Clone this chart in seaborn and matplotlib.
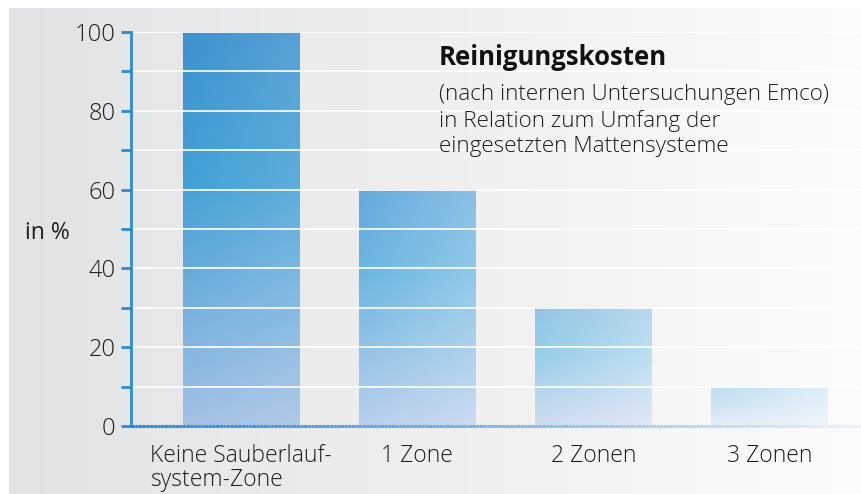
import numpy as np
import pandas as pd
import matplotlib
matplotlib.use('Agg')
import matplotlib.pyplot as plt
import seaborn as sns
from matplotlib.collections import LineCollection
from matplotlib.colors import LinearSegmentedColormap, to_rgb
from matplotlib.ticker import MultipleLocator

# --- data ---
categories = ['Keine Sauberlauf-\nsystem-Zone', '1 Zone', '2 Zonen', '3 Zonen']
values = [100, 60, 30, 10]
yticks = [0, 20, 40, 60, 80, 100]
title = 'Reinigungskosten'
subtitle = '(nach internen Untersuchungen Emco)\nin Relation zum Umfang der\neingesetzten Mattensysteme'

df = pd.DataFrame({'zone': categories, 'kosten': values})

# --- style ---
sns.set_theme(style='white')
plt.rcParams['font.family'] = ['Open Sans', 'DejaVu Sans']
plt.rcParams['font.weight'] = 'light'

blue = '#2b8bd0'
text_col = '#1e1e1e'
# gradient stops per bar: (top, mid, bottom), mid position, lightening to the right
bar_stops = [
    ('#3d92ce', '#42a0d5', '#a3c0e4', 0.38, 0.14),
    ('#64aadc', '#69b6e0', '#b9ceec', 0.35, 0.26),
    ('#91c4e4', '#96cde8', '#d0dcf0', 0.40, 0.36),
    ('#bedef0', '#c8e2f2', '#e4ecf7', 0.40, 0.50),
]

fig = plt.figure(figsize=(8.61, 4.94), dpi=100)

# grey background panel, fading to white on the right
bg = fig.add_axes([9/861, 0, 1 - 9/861, 486/494], zorder=-1)
bg_cmap = LinearSegmentedColormap.from_list('bg', ['#e2e3e5', '#efefef', '#fcfcfc'])
bg.imshow(np.linspace(0, 1, 256)[None, :], aspect='auto', cmap=bg_cmap, extent=[0, 1, 0, 1])
bg.axis('off')

ax = fig.add_axes([131/861, 68/494, 1 - 131/861, 394/494])
ax.patch.set_visible(False)

sns.barplot(data=df, x='zone', y='kosten', width=0.66, color=blue, ax=ax)

# replace flat bars with gradient images
for patch, (top, mid, bot, mpos, light) in zip(ax.patches, bar_stops):
    x0, y0 = patch.get_x(), patch.get_y()
    w, h = patch.get_width(), patch.get_height()
    vcmap = LinearSegmentedColormap.from_list('v', [(0, to_rgb(top)), (mpos, to_rgb(mid)), (1, to_rgb(bot))])
    rows = vcmap(np.linspace(0, 1, 200))[:, :3]
    t = np.linspace(0, light, 100)[None, :, None]
    img = rows[:, None, :] * (1 - t) + t
    ax.imshow(img, extent=[x0, x0 + w, y0, y0 + h], aspect='auto', zorder=1, origin='upper')
    patch.set_facecolor('none')
    patch.set_edgecolor('none')

ax.set_xlim(-0.624, 3.52)
ax.set_ylim(0, 100)

# axes and ticks
for side in ['top', 'right', 'bottom']:
    ax.spines[side].set_visible(False)
ax.spines['left'].set_color(blue)
ax.spines['left'].set_linewidth(2)
ax.spines['left'].set_zorder(4)

ax.set_yticks(yticks)
ax.yaxis.set_minor_locator(MultipleLocator(10))
ax.tick_params(axis='y', which='both', direction='out', length=7, width=2, color=blue,
               left=True, labelsize=17, labelcolor=text_col, pad=4)
ax.tick_params(axis='x', length=0, labelsize=16.5, labelcolor=text_col, pad=13)
for lbl in ax.get_xticklabels():
    lbl.set_multialignment('left')
    lbl.set_linespacing(1.02)

ax.set_axisbelow(False)
ax.grid(which='both', axis='y', color='white', linewidth=1.2)
ax.grid(axis='x', visible=False)

# bottom axis line fading from blue to pale
xs = np.linspace(ax.get_xlim()[0], ax.get_xlim()[1], 200)
segs = np.stack([np.column_stack([xs[:-1], np.zeros(199)]), np.column_stack([xs[1:], np.zeros(199)])], axis=1)
line_cmap = LinearSegmentedColormap.from_list('ln', [blue, '#7fb5e0', '#eaf2fa'])
lc = LineCollection(segs, colors=line_cmap(np.linspace(0, 1, 199)), linewidths=2.2,
                    transform=ax.transData, zorder=4, clip_on=False)
ax.add_collection(lc)

ax.set_xlabel('')
ax.set_ylabel('in %', rotation=0, fontsize=16.5, color=text_col, ha='center', va='center')
ax.yaxis.set_label_coords(-0.114, 0.49)

fig.text(439/861, 0.8684, title, fontsize=18.5, fontweight='bold', color='#111111', va='baseline')
# multi-line text: baseline alignment refers to the last line
fig.text(439/861, 0.6923, subtitle, fontsize=16.2, color=text_col, va='baseline', linespacing=1.27)

fig.savefig('out.png', dpi=100)
